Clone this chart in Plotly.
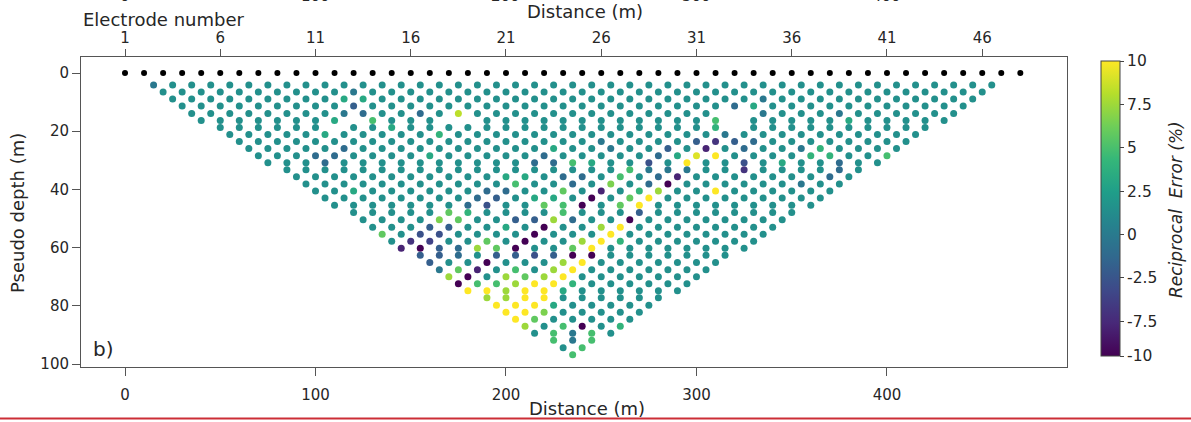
import plotly.graph_objects as go

# ---------------- data ----------------
ELECTRODE_NUMBERS = list(range(1, 49))
ELECTRODE_SPACING_M = 10

# pseudo-section rows: pseudo depth (m) and first midpoint (m); rows are symmetric about 235 m
ROW_DEPTH = [4.1, 6.5, 8.9, 11.3, 13.9, 16.3, 18.7, 21.1, 23.5, 25.9, 28.4, 30.8, 33.2,
             35.6, 38.1, 40.5, 42.9, 45.4, 47.9, 50.4, 53.0, 55.4, 57.8, 60.2, 62.6, 65.1,
             67.6, 70.0, 72.4, 74.8, 77.2, 79.8, 82.2, 84.6, 87.0, 89.4, 91.8, 94.4, 96.8]
ROW_X_START = [15, 20, 25, 30, 35, 40, 50, 55, 60, 65, 70, 75, 85, 90, 95, 100, 105, 110,
               120, 125, 130, 135, 140, 145, 155, 160, 165, 170, 175, 180, 190, 195, 200,
               205, 210, 215, 225, 230, 235]
LINE_LENGTH_M = 470
MIDPOINT_STEP_M = 10

# typical reciprocal error of the bulk of the measurements
BASE_ERROR = 0.0

ANOMALIES = [
    (1, 15, -2), (2, 120, -2), (3, 115, 2), (3, 125, 2), (3, 335, -2),
    (4, 120, -4), (4, 320, -3), (4, 330, 2),
    (5, 115, -2), (5, 125, -3), (5, 155, -3), (5, 175, 8), (5, 335, -2), (5, 375, -2),
    (6, 110, 2), (6, 130, 4), (6, 310, 4), (6, 380, 2),
    (7, 140, 2), (7, 310, 3),
    (8, 105, 2), (8, 165, 3), (8, 315, -2),
    (9, 250, -2), (9, 300, -4), (9, 310, -7), (9, 320, -4), (9, 330, -3),
    (10, 115, -3), (10, 225, 2), (10, 255, -2), (10, 285, -4), (10, 305, -8), (10, 325, -3),
    (10, 355, -2), (10, 365, 3),
    (11, 100, -3), (11, 110, -3), (11, 160, 2), (11, 220, -3), (11, 280, -3), (11, 290, 2),
    (11, 300, 9), (11, 310, 10), (11, 360, 3), (11, 370, 3), (11, 400, 4),
    (12, 105, -3), (12, 215, -3), (12, 225, -3), (12, 235, 4), (12, 245, 2), (12, 275, -5),
    (12, 295, 10), (12, 325, -5), (12, 345, 2), (12, 375, -3),
    (13, 265, 4), (13, 275, -2), (13, 285, -2), (13, 295, -2), (13, 325, -7), (13, 375, -3),
    (14, 200, 2), (14, 210, 2), (14, 230, -3), (14, 240, -3), (14, 260, 4), (14, 280, -3),
    (14, 290, -8), (14, 370, -3),
    (15, 205, 4), (15, 235, -3), (15, 255, 6), (15, 275, -3), (15, 285, -10), (15, 355, -2),
    (16, 120, 2), (16, 190, -3), (16, 200, -3), (16, 230, 5), (16, 250, -8), (16, 270, 3),
    (16, 280, 7), (16, 310, 10),
    (17, 185, -3), (17, 195, -4), (17, 215, 2), (17, 225, 2), (17, 245, -10), (17, 265, 5),
    (17, 275, 10),
    (18, 180, -3), (18, 190, -5), (18, 220, 5), (18, 230, 4), (18, 240, -10), (18, 260, 5),
    (18, 270, 10),
    (19, 170, 5), (19, 180, 3), (19, 230, 4), (19, 270, -4),
    (20, 165, 6), (20, 175, 5), (20, 205, -4), (20, 215, -4), (20, 225, 7), (20, 235, -3),
    (20, 265, -10),
    (21, 160, -4), (21, 170, -4), (21, 200, 2), (21, 220, -10), (21, 250, 7), (21, 260, 10),
    (22, 135, 5), (22, 155, -5), (22, 165, -5), (22, 215, -10), (22, 255, 10),
    (23, 150, -7), (23, 160, -6), (23, 190, 5), (23, 210, -10), (23, 240, 7), (23, 250, 10),
    (23, 260, 3),
    (24, 145, -8), (24, 155, -10), (24, 165, -4), (24, 175, -3), (24, 185, 7), (24, 195, 5),
    (24, 205, -10), (24, 235, 5), (24, 245, 10),
    (25, 155, -4), (25, 165, -4), (25, 175, -3), (25, 195, -4), (25, 205, -4), (25, 215, -5),
    (25, 225, -4), (25, 235, -10), (25, 245, -10),
    (26, 160, -4), (26, 190, -10), (26, 230, 7), (26, 240, 10),
    (27, 165, -2), (27, 175, 5), (27, 185, -8), (27, 205, 4), (27, 225, 7), (27, 235, 10),
    (28, 170, 7), (28, 180, -10), (28, 200, 7), (28, 210, 5), (28, 220, 7), (28, 230, 10),
    (29, 175, -10), (29, 185, 4), (29, 195, 4), (29, 205, 7), (29, 215, 10), (29, 225, 10),
    (29, 235, 3),
    (30, 180, 10), (30, 190, 10), (30, 200, 7), (30, 210, 10), (30, 220, 10), (30, 230, 2),
    (31, 190, 7), (31, 200, 7), (31, 210, 10), (31, 220, 10),
    (32, 195, 10), (32, 205, 10), (32, 215, 10), (32, 225, 2),
    (33, 200, 10), (33, 210, 10), (33, 220, 6),
    (34, 205, 10), (34, 215, 5),
    (35, 210, 7), (35, 230, 4), (35, 240, -10), (35, 260, 3),
    (36, 225, 4), (36, 235, -2), (36, 245, 4),
    (37, 225, 4), (37, 235, -2), (37, 245, 4),
    (38, 240, 4), (39, 235, 4),
]

# (row, midpoint m) of measurements that were removed (blank spots)
MISSING = [(5, 315), (5, 325), (6, 320), (7, 320), (6, 120), (6, 170), (6, 180), (7, 110)]

X_TICKS = [0, 100, 200, 300, 400]
Y_TICKS = [0, 20, 40, 60, 80, 100]
CB_TICK_TEXT = ["10", "7.5", "5", "2.5", "0", "-2.5", "-7.5", "-10"]
CB_TICK_POS = [10, 7.06, 4.12, 1.18, -1.76, -4.7, -7.64, -10]

# ---------------- build points ----------------
anom = {(r, x): v for r, x, v in ANOMALIES}
miss = set(MISSING)
px, py, pv = [], [], []
for i, (d, xs) in enumerate(zip(ROW_DEPTH, ROW_X_START), start=1):
    x = xs
    while x <= LINE_LENGTH_M - xs + 1e-9:
        if (i, x) not in miss:
            px.append(x)
            py.append(d)
            pv.append(anom.get((i, x), BASE_ERROR))
        x += MIDPOINT_STEP_M

elec_x = [(n - 1) * ELECTRODE_SPACING_M for n in ELECTRODE_NUMBERS]
elec_y = [0] * len(elec_x)

# ---------------- figure ----------------
W, H = 1191, 422
L, R, T, B = 81, 1067, 57, 367
FONT = "DejaVu Sans"
TXT = "#262626"
AX = "#555555"

def pxx(p):
    return (p - L) / (R - L)

def pxy(p):
    return (B - p) / (B - T)

XR = [-23.1, 494.5]
YR = [101.0, -5.5]

fig = go.Figure()
fig.add_trace(go.Scatter(
    x=px, y=py, mode="markers",
    marker=dict(size=7, color=pv, colorscale="Viridis", cmin=-10, cmax=10,
                line=dict(width=0),
                colorbar=dict(
                    x=pxx(1101), xanchor="left", xpad=0, ypad=0,
                    y=pxy(208.5), yanchor="middle",
                    lenmode="pixels", len=295, thickness=19,
                    outlinewidth=1, outlinecolor="#444444",
                    tickmode="array", tickvals=CB_TICK_POS, ticktext=CB_TICK_TEXT,
                    ticks="outside", ticklen=4, tickcolor="#444444",
                    tickfont=dict(family=FONT, size=15.5, color=TXT),
                )),
    showlegend=False, hoverinfo="skip",
))
fig.add_trace(go.Scatter(
    x=elec_x, y=elec_y, mode="markers", xaxis="x2", yaxis="y",
    marker=dict(size=6, color="black"), showlegend=False, hoverinfo="skip",
))

fig.update_layout(
    width=W, height=H,
    margin=dict(l=L, r=W - R, t=T, b=H - B, pad=0),
    paper_bgcolor="white", plot_bgcolor="white",
    font=dict(family=FONT, size=15, color=TXT),
    xaxis=dict(range=XR, tickvals=X_TICKS, ticks="outside", ticklen=8, tickcolor=AX,
               showline=True, linecolor=AX, linewidth=1, showgrid=False, zeroline=False,
               ticklabelstandoff=6, tickfont=dict(size=15)),
    xaxis2=dict(range=XR, overlaying="x", side="top",
                tickmode="array", tickvals=[(n - 1) * ELECTRODE_SPACING_M for n in ELECTRODE_NUMBERS[::5]],
                ticktext=[str(n) for n in ELECTRODE_NUMBERS[::5]],
                ticks="outside", ticklen=7, tickcolor=AX,
                showline=True, linecolor=AX, linewidth=1, showgrid=False, zeroline=False,
                tickfont=dict(size=15)),
    yaxis=dict(range=YR, tickvals=Y_TICKS, ticks="outside", ticklen=8, tickcolor=AX,
               showline=True, mirror=True, linecolor=AX, linewidth=1,
               showgrid=False, zeroline=False, tickfont=dict(size=15)),
)

ann = []
ann.append(dict(text="Electrode number", xref="paper", yref="paper", x=pxx(81), y=pxy(19),
                xanchor="left", yanchor="middle", showarrow=False, font=dict(size=18)))
ann.append(dict(text="Distance (m)", xref="paper", yref="paper", x=pxx(585), y=pxy(12),
                xanchor="center", yanchor="middle", showarrow=False, font=dict(size=18)))
ann.append(dict(text="Distance (m)", xref="paper", yref="paper", x=pxx(587), y=pxy(408),
                xanchor="center", yanchor="middle", showarrow=False, font=dict(size=18)))
ann.append(dict(text="Pseudo depth (m)", xref="paper", yref="paper", x=pxx(18), y=pxy(213),
                xanchor="center", yanchor="middle", textangle=-90, showarrow=False,
                font=dict(size=18)))
ann.append(dict(text="b)", xref="paper", yref="paper", x=pxx(103), y=pxy(349),
                xanchor="center", yanchor="middle", showarrow=False, font=dict(size=20)))
ann.append(dict(text="<i>Reciprocal  Error (%)</i>", xref="paper", yref="paper",
                x=pxx(1176), y=pxy(210), xanchor="center", yanchor="middle", textangle=-90,
                showarrow=False, font=dict(size=17)))
# tick labels of the panel above, cut by the page edge
for v in X_TICKS:
    ann.append(dict(text=str(v), xref="x", yref="paper", x=v, y=pxy(-4),
                    xanchor="center", yanchor="middle", showarrow=False, font=dict(size=15)))
fig.update_layout(annotations=ann)

fig.add_shape(type="line", xref="paper", yref="paper", x0=pxx(0), x1=pxx(W),
              y0=pxy(418.5), y1=pxy(418.5), line=dict(color="#cc2e36", width=2))

fig.write_html("out.html", config={"displayModeBar": False},
               post_script="document.body.style.margin='0';document.body.style.overflow='hidden';")
